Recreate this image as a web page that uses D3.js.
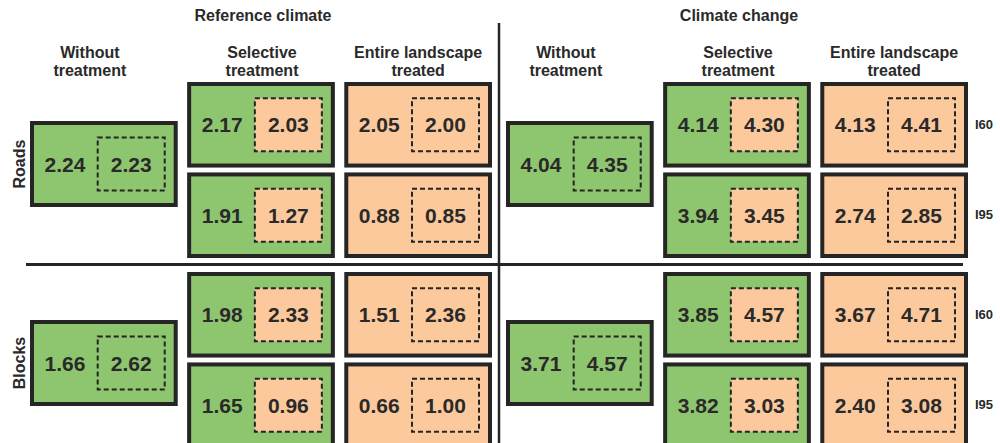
<!DOCTYPE html>
<html>
<head>
<meta charset="utf-8">
<script src="https://cdn.jsdelivr.net/npm/d3@7"></script>
<style>
  html, body { margin: 0; padding: 0; background: #fff; }
  svg { display: block; font-family: "Liberation Sans", Arial, sans-serif; font-weight: bold; }
</style>
</head>
<body>
<svg id="chart" width="1000" height="443"></svg>
<script>
// ---------- data ----------
const climates = ["Reference climate", "Climate change"];
const treatments = ["Without treatment", "Selective treatment", "Entire landscape treated"];
const treatmentHeaders = [["Without", "treatment"], ["Selective", "treatment"], ["Entire landscape", "treated"]];
const layouts = ["Roads", "Blocks"];
const intensities = ["I60", "I95"];

// Without treatment: one value per layout [Roads, Blocks]
const refWithoutOuter = [2.24, 1.66];
const refWithoutInner = [2.23, 2.62];
const ccWithoutOuter = [4.04, 3.71];
const ccWithoutInner = [4.35, 4.57];

// Treated: order Roads I60, Roads I95, Blocks I60, Blocks I95
const refSelectiveOuter = [2.17, 1.91, 1.98, 1.65];
const refSelectiveInner = [2.03, 1.27, 2.33, 0.96];
const refEntireOuter = [2.05, 0.88, 1.51, 0.66];
const refEntireInner = [2.00, 0.85, 2.36, 1.00];
const ccSelectiveOuter = [4.14, 3.94, 3.85, 3.82];
const ccSelectiveInner = [4.30, 3.45, 4.57, 3.03];
const ccEntireOuter = [4.13, 2.74, 3.67, 2.40];
const ccEntireInner = [4.41, 2.85, 4.71, 3.08];

// ---------- build cells ----------
const withoutData = [[refWithoutOuter, refWithoutInner], [ccWithoutOuter, ccWithoutInner]];
const treatedData = [
  [[refSelectiveOuter, refSelectiveInner], [refEntireOuter, refEntireInner]],
  [[ccSelectiveOuter, ccSelectiveInner], [ccEntireOuter, ccEntireInner]]
];
const cells = [];
climates.forEach((c, ci) => {
  layouts.forEach((l, li) => {
    cells.push({climate: c, treatment: treatments[0], layout: l, intensity: null,
      outer: withoutData[ci][0][li], inner: withoutData[ci][1][li], kind: 0});
    [1, 2].forEach(ti => {
      intensities.forEach((it, ii) => {
        const k = li * 2 + ii;
        cells.push({climate: c, treatment: treatments[ti], layout: l, intensity: it,
          outer: treatedData[ci][ti - 1][0][k], inner: treatedData[ci][ti - 1][1][k], kind: ti});
      });
    });
  });
});

// ---------- style ----------
const GREEN = "#8ec56f", ORANGE = "#fbc99b", DARK = "#252525", TEXT = "#2a2a2a";

// ---------- scales ----------
const xPanel = d3.scaleBand().domain(climates).range([30, 968]).paddingInner(14 / 476);
const xCol = d3.scaleBand().domain(treatments).range([0, xPanel.bandwidth()]).paddingInner(0.06);
const yLayout = d3.scaleBand().domain(layouts).range([82, 447]).paddingInner(15 / 190);
const yInt = d3.scaleBand().domain(intensities).range([0, yLayout.bandwidth()]).paddingInner(0.065);
const yWithout = d3.scaleBand().domain(layouts).range([121, 406]).paddingInner(113 / 199);

const svg = d3.select("#chart");

function cellBox(d) {
  const x = xPanel(d.climate) + xCol(d.treatment);
  const w = xCol.bandwidth();
  let y, h;
  if (d.intensity) { y = yLayout(d.layout) + yInt(d.intensity); h = yInt.bandwidth() + 1; }
  else { y = yWithout(d.layout); h = yWithout.bandwidth(); }
  return {x, y, w, h};
}

const sw = 4;
const g = svg.append("g");
const cg = g.selectAll("g.cell").data(cells).join("g").attr("class", "cell");
cg.each(function(d) {
  const b = cellBox(d);
  const sel = d3.select(this);
  sel.append("rect")
    .attr("x", b.x + sw / 2).attr("y", b.y + sw / 2)
    .attr("width", b.w - sw).attr("height", b.h - sw)
    .attr("fill", d.kind === 2 ? ORANGE : GREEN)
    .attr("stroke", DARK).attr("stroke-width", sw);
  const iw = 67, ih = 53;
  const ix = b.x + b.w - 13 - iw;
  const iy = b.y + b.h / 2 - ih / 2;
  sel.append("rect")
    .attr("x", ix).attr("y", iy).attr("width", iw).attr("height", ih)
    .attr("fill", d.kind === 0 ? "none" : ORANGE)
    .attr("stroke", DARK).attr("stroke-width", 2)
    .attr("stroke-dasharray", "5,3");
  const ty = b.y + b.h / 2 + 7.5;
  sel.append("text")
    .attr("x", b.x + 35).attr("y", ty)
    .attr("text-anchor", "middle").attr("font-size", 21).attr("fill", TEXT)
    .text(d3.format(".2f")(d.outer));
  sel.append("text")
    .attr("x", ix + iw / 2).attr("y", ty)
    .attr("text-anchor", "middle").attr("font-size", 21).attr("fill", TEXT)
    .text(d3.format(".2f")(d.inner));
});

// ---------- headers ----------
const headerOffset = [-14, 1, 0];
climates.forEach(c => {
  svg.append("text")
    .attr("x", xPanel(c) + xCol(treatments[1]) + xCol.bandwidth() / 2 + 2)
    .attr("y", 21).attr("text-anchor", "middle").attr("font-size", 16).attr("fill", TEXT)
    .text(c);
  treatments.forEach((t, ti) => {
    const tx = xPanel(c) + xCol(t) + xCol.bandwidth() / 2 + headerOffset[ti];
    const tt = svg.append("text").attr("text-anchor", "middle").attr("font-size", 16).attr("fill", TEXT);
    treatmentHeaders[ti].forEach((line, li) => {
      tt.append("tspan").attr("x", tx).attr("y", 58 + li * 18).text(line);
    });
  });
});

// row labels
layouts.forEach(l => {
  const cy = yWithout(l) + yWithout.bandwidth() / 2;
  svg.append("text")
    .attr("transform", `translate(25,${cy}) rotate(-90)`)
    .attr("text-anchor", "middle").attr("font-size", 16).attr("fill", TEXT)
    .text(l);
  intensities.forEach(it => {
    svg.append("text")
      .attr("x", xPanel.range()[1] + 7)
      .attr("y", yLayout(l) + yInt(it) + yInt.bandwidth() / 2 + 4.5)
      .attr("font-size", 13).attr("fill", TEXT)
      .text(it);
  });
});

// dividers
const divX = (xPanel(climates[0]) + xPanel.bandwidth() + xPanel(climates[1])) / 2;
svg.append("line").attr("x1", divX).attr("x2", divX).attr("y1", 23).attr("y2", 443)
  .attr("stroke", DARK).attr("stroke-width", 2.5);
const divY = (yLayout(layouts[0]) + yLayout.bandwidth() + yLayout(layouts[1])) / 2;
svg.append("line").attr("x1", 26).attr("x2", xPanel.range()[1] - 5).attr("y1", divY).attr("y2", divY)
  .attr("stroke", DARK).attr("stroke-width", 3);
</script>
</body>
</html>
